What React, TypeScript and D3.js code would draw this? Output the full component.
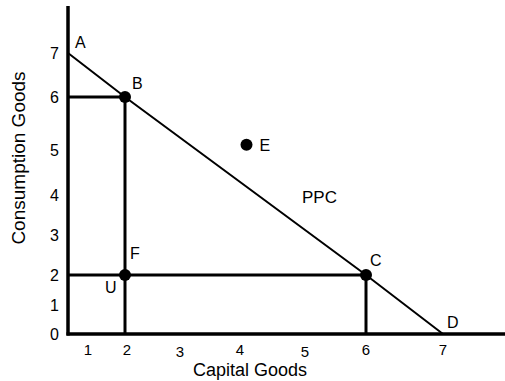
import React from 'react';
import * as d3 from 'd3';

const xTicks = [1, 2, 3, 4, 5, 6, 7];
const yTicks = [0, 1, 2, 3, 4, 5, 6, 7];

// PPC corner points (capital, consumption)
const ppcNames = ['A', 'B', 'C', 'D'];
const ppcCapital = [0, 2, 6, 7];
const ppcConsumption = [7, 6, 2, 0];

// marked combinations
const dotNames = ['B', 'F', 'C', 'E'];
const dotCapital = [2, 2, 6, 4.1];
const dotConsumption = [6, 2, 2, 5.1];

// guide lines [x1, y1, x2, y2] in data units
const guides = [
  [0, 6, 2, 6],
  [2, 6, 2, 0],
  [0, 2, 6, 2],
  [6, 2, 6, 0],
];

const width = 505;
const height = 381;
const font = '"Liberation Sans", Arial, Helvetica, sans-serif';

// the hand-drawn axes aren't evenly spaced, so the scales are piecewise
const x = d3.scaleLinear()
  .domain([0, 1, 2, 3, 4, 5, 6, 7])
  .range([68, 88, 125, 180, 240, 305, 366, 443]);

const y = d3.scaleLinear()
  .domain([0, 1, 2, 3, 4, 5, 6, 7])
  .range([334, 305, 275, 235, 195, 150, 97, 53]);

// where each letter sits relative to its point
const labelOffset = {
  A: [7, -5], B: [7, -8], C: [4, -9], D: [4, -6],
  F: [5, -16], U: [-20, 18], E: [13, 6],
};

export default function App() {
  const line = d3.line().x(d => x(d[0])).y(d => y(d[1]));
  const ppcPts = ppcCapital.map((c, i) => [c, ppcConsumption[i]]);

  const letters = [
    ...ppcNames.map((n, i) => ({ n, px: ppcCapital[i], py: ppcConsumption[i] })),
    { n: 'F', px: 2, py: 2 },
    { n: 'U', px: 2, py: 2 },
    { n: 'E', px: dotCapital[3], py: dotConsumption[3] },
  ];

  return (
    <svg width={width} height={height} style={{ position: 'absolute', left: 0, top: 0, background: '#fff' }}
      fontFamily={font}>
      {/* axes */}
      <line x1={x(0)} y1={6} x2={x(0)} y2={y(0) + 1.5} stroke="#000" strokeWidth={3.5} />
      <line x1={x(0) - 1.5} y1={y(0)} x2={width} y2={y(0)} stroke="#000" strokeWidth={3.5} />

      {guides.map((g, i) => (
        <line key={i} x1={x(g[0])} y1={y(g[1])} x2={x(g[2])} y2={y(g[3])} stroke="#000" strokeWidth={3} />
      ))}

      <path d={line(ppcPts)} fill="none" stroke="#000" strokeWidth={2} />

      {dotNames.map((n, i) => (
        <circle key={n} cx={x(dotCapital[i])} cy={y(dotConsumption[i])} r={6} fill="#000" />
      ))}

      {xTicks.map(t => (
        <text key={t} x={x(t) + (t === 2 ? 2 : 0)} y={t === 3 || t === 5 ? 357 : 355} fontSize={15} textAnchor="middle">{t}</text>
      ))}
      {yTicks.map(t => (
        <text key={t} x={59} y={y(t)} dy="0.36em" fontSize={16} textAnchor="end">{t}</text>
      ))}

      {letters.map(l => (
        <text key={l.n} x={x(l.px) + labelOffset[l.n][0]} y={y(l.py) + labelOffset[l.n][1]} fontSize={16}>{l.n}</text>
      ))}
      <text x={302} y={203} fontSize={17}>PPC</text>

      <text x={250} y={376} fontSize={18} textAnchor="middle">Capital Goods</text>
      <text transform="translate(25,158) rotate(-90)" fontSize={19} textAnchor="middle">Consumption Goods</text>
    </svg>
  );
}
